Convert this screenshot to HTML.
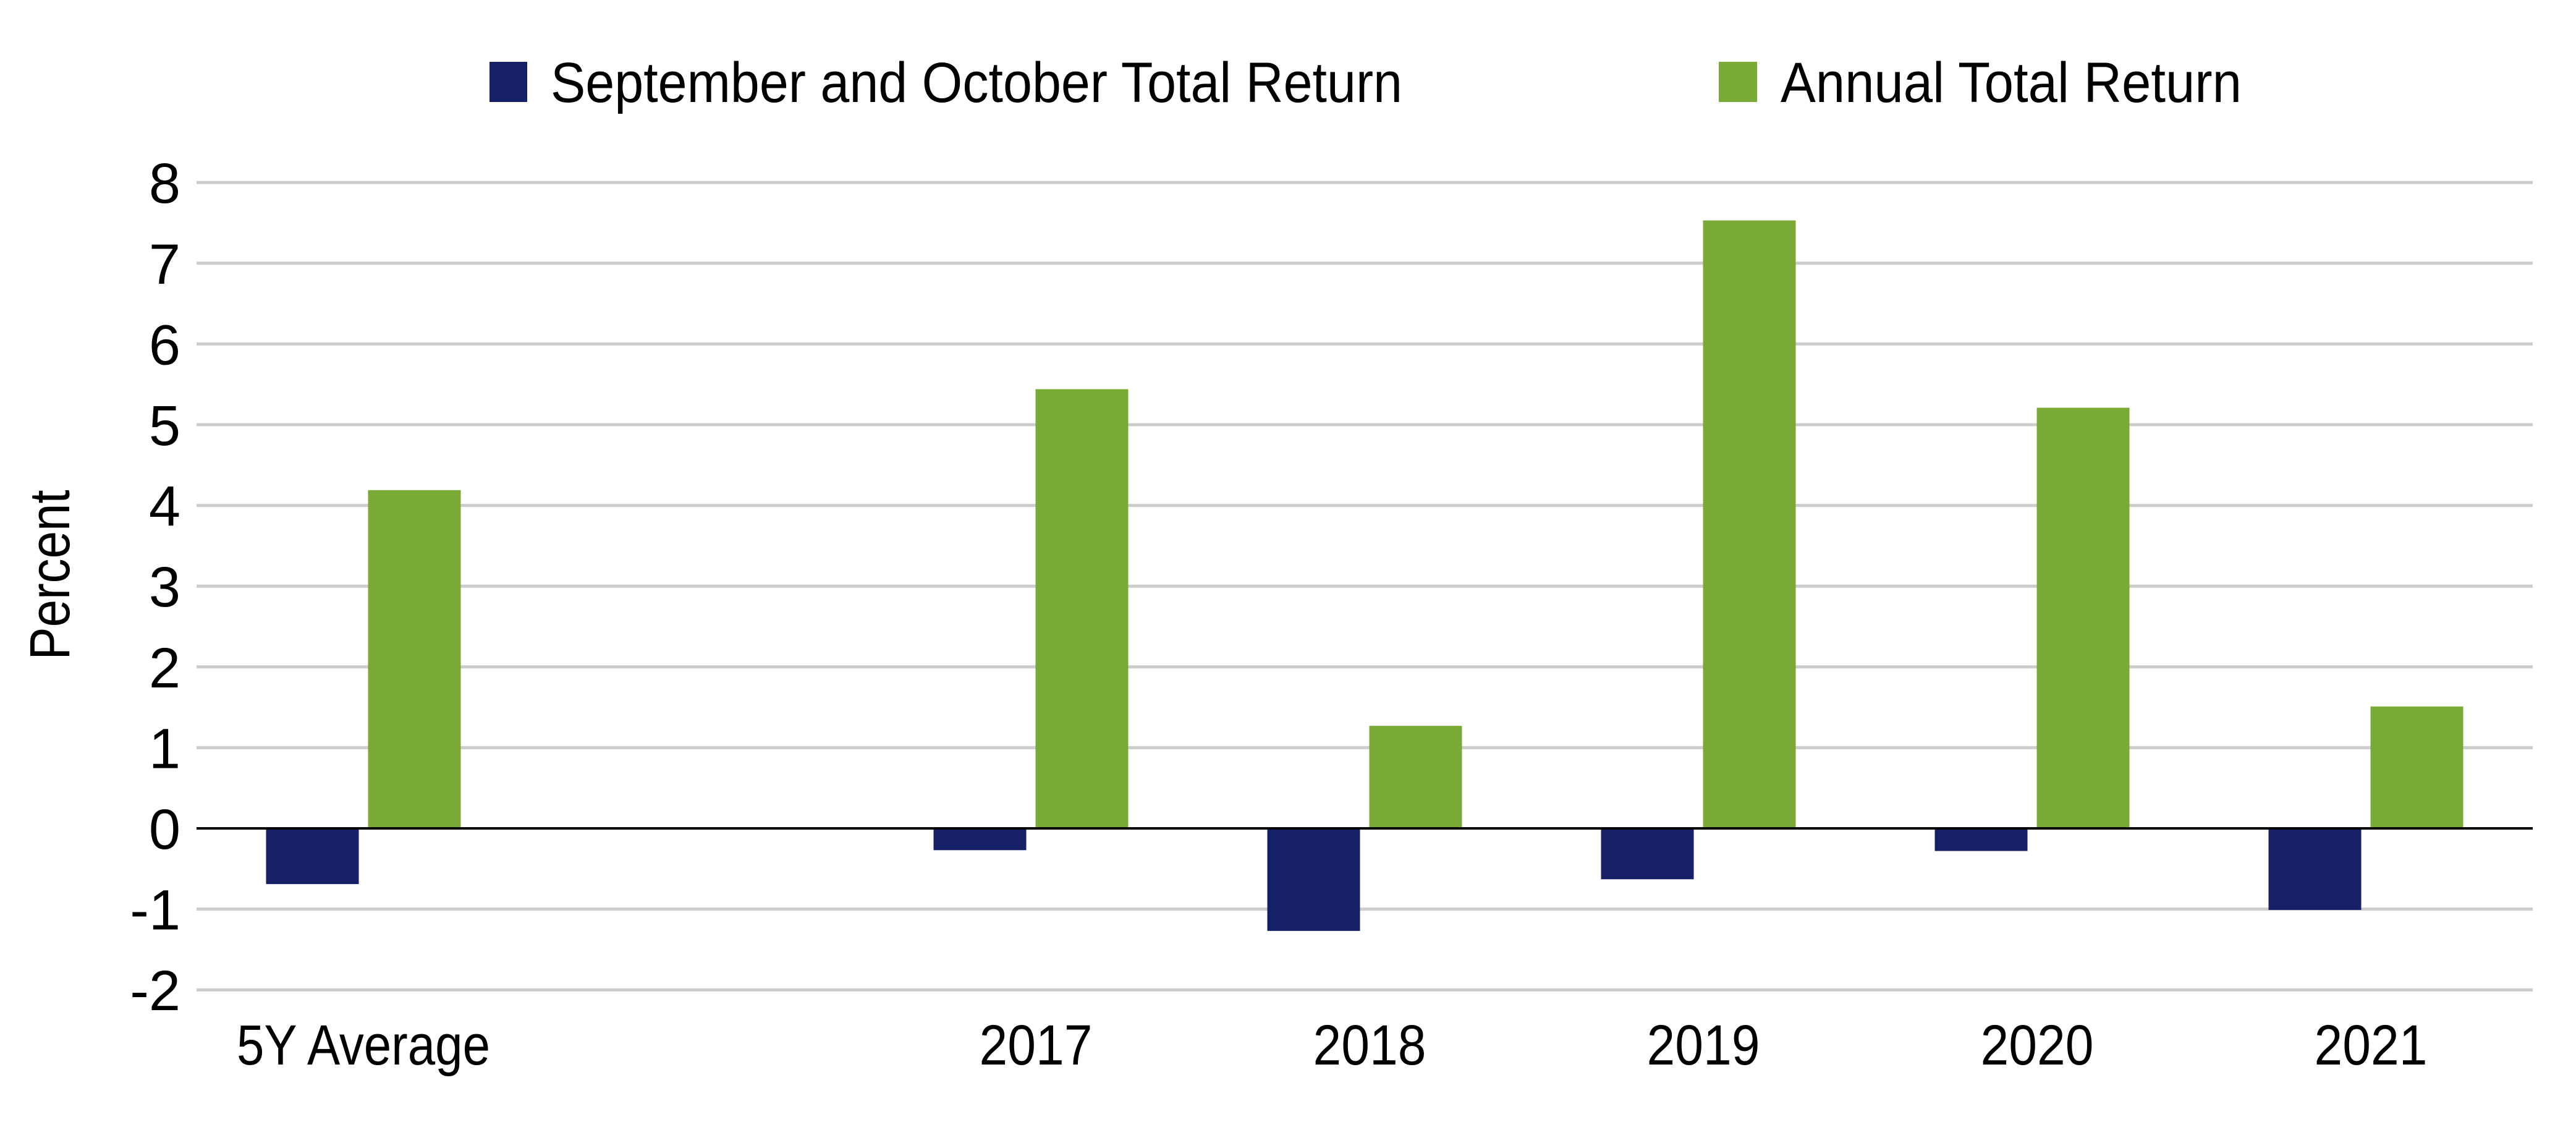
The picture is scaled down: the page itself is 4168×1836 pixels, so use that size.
<!DOCTYPE html>
<html><head><meta charset="utf-8"><style>
html,body{margin:0;padding:0;background:#fff;}
svg{display:block;font-family:"Liberation Sans",sans-serif;}
</style></head><body>
<svg width="4168" height="1836" viewBox="0 0 4168 1836" xmlns="http://www.w3.org/2000/svg">
<g id="legend">
  <rect x="792" y="100" width="61" height="65" fill="#152066"/>
  <text x="891" y="165" font-size="92" textLength="1378" lengthAdjust="spacingAndGlyphs" fill="#000">September and October Total Return</text>
  <rect x="2781" y="100" width="62" height="65" fill="#7aaa36"/>
  <text x="2881" y="165" font-size="92" textLength="746" lengthAdjust="spacingAndGlyphs" fill="#000">Annual Total Return</text>
</g>
<text transform="translate(112,930) rotate(-90)" text-anchor="middle" font-size="92" textLength="275" lengthAdjust="spacingAndGlyphs">Percent</text>
<g id="grid"></g>
<g id="bars"></g>
<g id="xlabels"></g>
</svg>
<script>
const categories = ["5Y Average", "", "2017", "2018", "2019", "2020", "2021"];
const sepOct = [-0.69, null, -0.27, -1.27, -0.63, -0.28, -1.01];
const annual = [4.19, null, 5.44, 1.27, 7.53, 5.21, 1.51];
const yTicks = [-2, -1, 0, 1, 2, 3, 4, 5, 6, 7, 8];

const NS = "http://www.w3.org/2000/svg";
const plotL = 318, plotR = 4098, y0 = 1340, unit = 130.6;
const slot = (plotR - plotL) / categories.length;
function yScale(v){ return y0 - v * unit; }
function xCenter(i){ return plotL + slot * (i + 0.5); }
function mk(tag, attrs){ const e = document.createElementNS(NS, tag); for (const k in attrs) e.setAttribute(k, attrs[k]); return e; }

const grid = document.getElementById('grid');
yTicks.forEach(t => {
  const y = yScale(t);
  if (t !== 0) {
    const ln = mk('line', {x1: plotL, x2: plotR, y1: y, y2: y, stroke: '#cccccc', 'stroke-width': 5});
    
    
    grid.appendChild(ln);
  }
  const tx = mk('text', {x: 292, y: y + 33, 'text-anchor': 'end', 'font-size': 92, fill: '#000'});
  tx.textContent = String(t);
  
  
  grid.appendChild(tx);
});

const bars = document.getElementById('bars');
const bw = 150, gap = 7.5;
categories.forEach((c, i) => {
  const cx = xCenter(i);
  if (sepOct[i] !== null) {
    const v = sepOct[i];
    const r = mk('rect', {x: cx - gap - bw, y: Math.min(yScale(v), y0), width: bw, height: Math.abs(yScale(v) - y0), fill: '#152066'});
    
    
    bars.appendChild(r);
  }
  if (annual[i] !== null) {
    const v = annual[i];
    const r = mk('rect', {x: cx + gap, y: Math.min(yScale(v), y0), width: bw, height: Math.abs(yScale(v) - y0), fill: '#7aaa36'});
    
    
    bars.appendChild(r);
  }
  if (c) {
    const isYear = /^\d+$/.test(c);
    const t = mk('text', {x: cx + (isYear ? 8 : 0), y: 1722, 'text-anchor': 'middle', 'font-size': 92, fill: '#000', textLength: isYear ? 183 : 410, lengthAdjust: 'spacingAndGlyphs'});
    t.textContent = c;
    
    
    document.getElementById('xlabels').appendChild(t);
  }
});
const zl = mk('line', {x1: plotL, x2: plotR, y1: y0, y2: y0, stroke: '#000', 'stroke-width': 4});


bars.appendChild(zl);
</script>
</body></html>
